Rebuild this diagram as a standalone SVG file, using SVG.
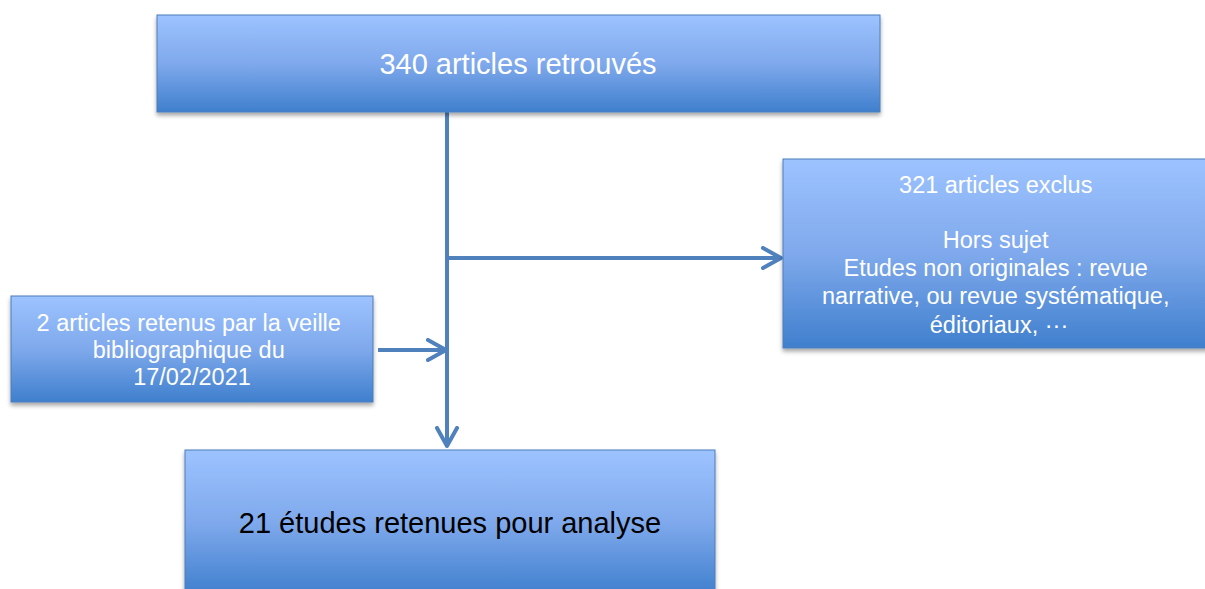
<svg xmlns="http://www.w3.org/2000/svg" width="1205" height="589" viewBox="0 0 1205 589">
<defs>
<linearGradient id="g" x1="0" y1="0" x2="0" y2="1">
<stop offset="0" stop-color="#9DC3FF"/>
<stop offset="0.5" stop-color="#7FA9EC"/>
<stop offset="1" stop-color="#3F7FCD"/>
</linearGradient>
<filter id="sh" x="-5%" y="-5%" width="110%" height="120%">
<feDropShadow dx="0" dy="3" stdDeviation="2" flood-color="#000" flood-opacity="0.35"/>
</filter>
<marker id="arr" viewBox="0 0 12 12" refX="10" refY="6" markerWidth="6" markerHeight="6" markerUnits="strokeWidth" orient="auto">
<path d="M1,1 L10,6 L1,11" fill="none" stroke="#4F81BD" stroke-width="2" stroke-linecap="round" stroke-linejoin="round"/>
</marker>
</defs>
<style>
.box{fill:url(#g);stroke:#4A7EBB;stroke-width:1;filter:url(#sh)}
.t{font-family:"Liberation Sans",Arial,sans-serif;text-anchor:middle}
.w{fill:#FFFFFF}
.k{fill:#000000}
.c{fill:none;stroke:#4F81BD;stroke-width:4}
</style>
<g id="connectors">
<line class="c" x1="447" y1="112" x2="447" y2="446" marker-end="url(#arr)"/>
<line class="c" x1="447" y1="258" x2="781" y2="258" marker-end="url(#arr)"/>
<line class="c" x1="378" y1="350" x2="446" y2="350" marker-end="url(#arr)"/>
</g>
<g id="n1">
<rect class="box" x="157" y="15" width="723" height="97"/>
<text class="t w" x="518" y="74" font-size="29">340 articles retrouvés</text>
</g>
<g id="n2">
<rect class="box" x="783" y="159" width="434" height="189"/>
<text class="t w" font-size="23.5">
<tspan x="999" y="193">321 articles exclus</tspan>
<tspan x="999" y="248">Hors sujet</tspan>
<tspan x="999" y="276">Etudes non originales : revue</tspan>
<tspan x="999" y="304">narrative, ou revue systématique,</tspan>
<tspan x="999" y="333">éditoriaux, ···</tspan>
</text>
</g>
<g id="n3">
<rect class="box" x="11" y="296" width="362" height="106"/>
<text class="t w" font-size="23.5">
<tspan x="192" y="331">2 articles retenus par la veille</tspan>
<tspan x="192" y="358">bibliographique du</tspan>
<tspan x="192" y="385">17/02/2021</tspan>
</text>
</g>
<g id="n4">
<rect class="box" x="185" y="450" width="530" height="145"/>
<text class="t k" x="450" y="533" font-size="29">21 études retenues pour analyse</text>
</g>
</svg>
